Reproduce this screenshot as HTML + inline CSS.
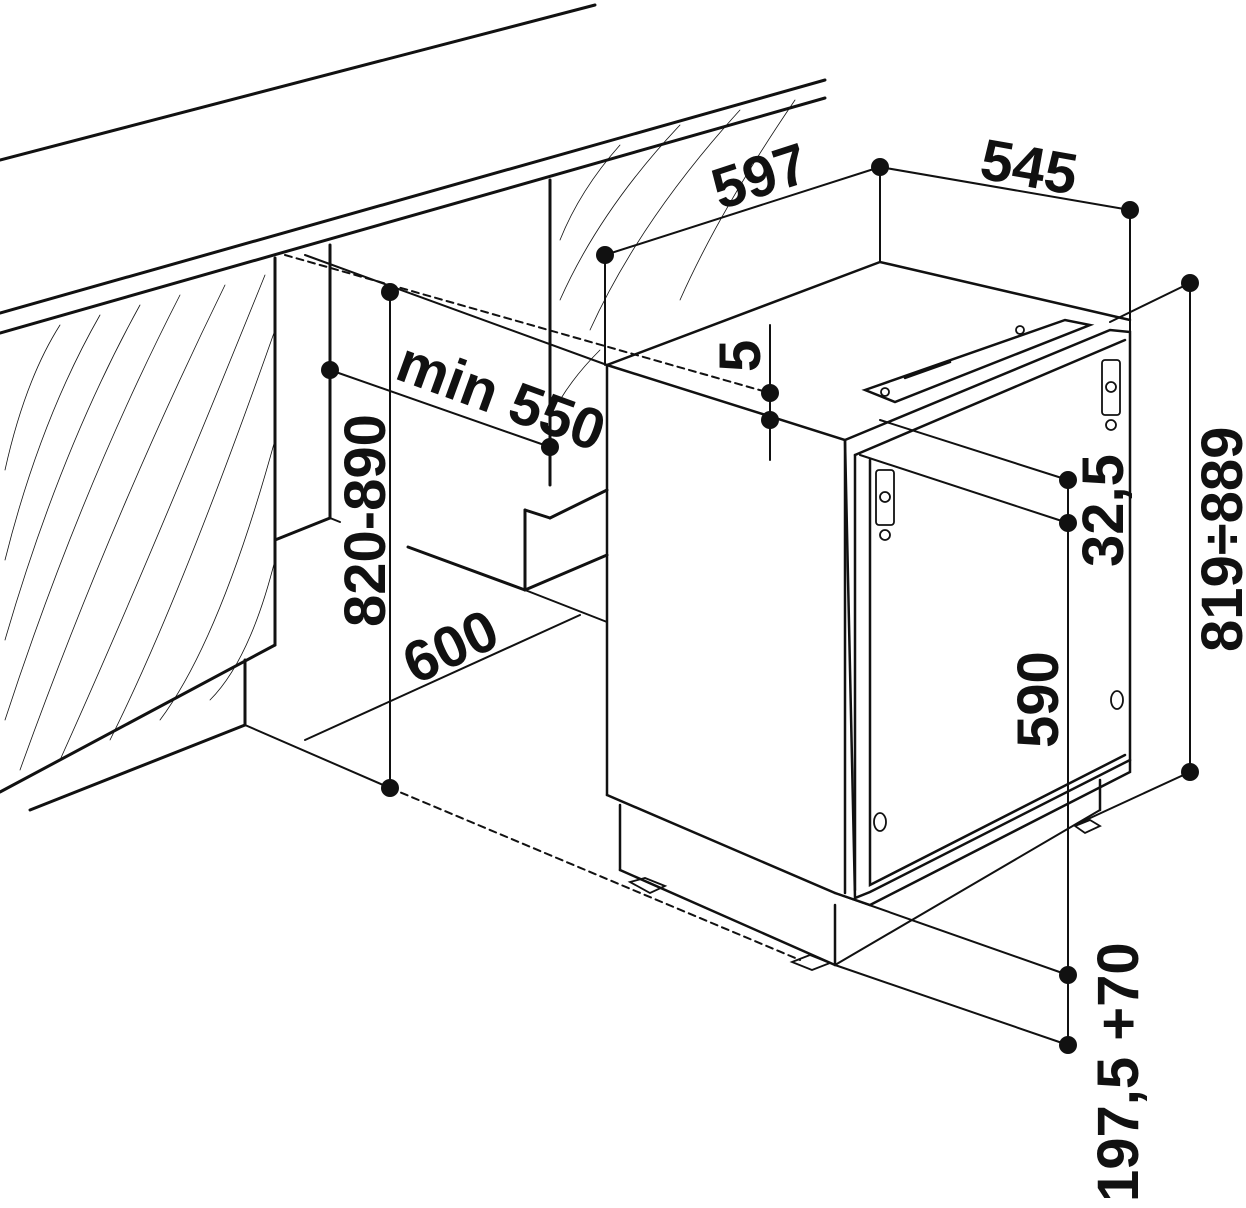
<!DOCTYPE html>
<html><head><style>
html,body{margin:0;padding:0;background:#fff;}
svg{display:block}
text{font-family:"Liberation Sans",sans-serif;font-weight:bold;fill:#111;}
</style></head><body>
<svg width="1246" height="1208" viewBox="0 0 1246 1208" xmlns="http://www.w3.org/2000/svg">
<g stroke="#111" fill="none" stroke-linecap="round">
<!-- hatch -->
<g stroke-width="0.8">
<path d="M5,470 Q25,380 60,325"/><path d="M5,560 Q40,420 100,315"/><path d="M5,640 Q60,450 140,305"/>
<path d="M5,720 Q80,490 180,295"/><path d="M20,770 Q110,520 225,285"/><path d="M60,760 Q150,560 265,275"/>
<path d="M110,740 Q180,600 275,330"/><path d="M160,720 Q220,640 275,440"/><path d="M210,700 Q250,660 275,560"/>
<path d="M560,240 Q580,190 620,145"/><path d="M560,300 Q600,210 680,125"/><path d="M590,330 Q640,220 740,110"/><path d="M680,300 Q720,210 795,100"/><path d="M560,400 Q575,375 600,350"/>
</g>
<g stroke-width="3">
<line x1="0" y1="160" x2="595" y2="5"/>
<line x1="0" y1="313" x2="825" y2="80"/>
<line x1="0" y1="333" x2="825" y2="98"/>
<line x1="275" y1="258" x2="275" y2="645"/>
<line x1="0" y1="792" x2="275" y2="645"/>
<line x1="245" y1="660" x2="245" y2="725"/>
<line x1="30" y1="810" x2="245" y2="725"/>
<line x1="275" y1="540" x2="330" y2="518"/>
<line x1="330" y1="245" x2="330" y2="518"/>
<line x1="550" y1="180" x2="550" y2="485"/>
<line x1="525" y1="510" x2="525" y2="590"/>
<line x1="525" y1="510" x2="550" y2="518"/>
<line x1="550" y1="518" x2="607" y2="490"/>
<line x1="525" y1="590" x2="607" y2="555"/>
<line x1="408" y1="547" x2="525" y2="590"/>
</g>
<g stroke-width="2">
<line x1="330" y1="518" x2="340" y2="522"/>
<line x1="245" y1="725" x2="390" y2="788"/>
<line x1="305" y1="740" x2="580" y2="615"/>
<line x1="525" y1="590" x2="607" y2="622"/>
<line x1="305" y1="255" x2="607" y2="365"/>
<line x1="330" y1="370" x2="550" y2="447"/>
<line x1="390" y1="292" x2="390" y2="788"/>
<line x1="605" y1="255" x2="880" y2="167"/>
<line x1="880" y1="167" x2="1130" y2="210"/>
<line x1="605" y1="255" x2="605" y2="365"/>
<line x1="880" y1="167" x2="880" y2="262"/>
<line x1="1130" y1="210" x2="1130" y2="770"/>
<line x1="1190" y1="283" x2="1190" y2="772"/>
<line x1="1190" y1="283" x2="1110" y2="322"/>
<line x1="1190" y1="772" x2="1075" y2="825"/>
<line x1="770" y1="325" x2="770" y2="460"/>
<line x1="1068" y1="480" x2="1068" y2="1045"/>
<line x1="880" y1="420" x2="1068" y2="480"/>
<line x1="860" y1="455" x2="1068" y2="523"/>
<line x1="835" y1="893" x2="1068" y2="975"/>
<line x1="835" y1="965" x2="1068" y2="1045"/>
<line x1="835" y1="965" x2="1100" y2="810"/>
</g>
<g stroke-width="2" stroke-dasharray="7,5">
<line x1="285" y1="255" x2="770" y2="393"/>
<line x1="390" y1="788" x2="800" y2="960"/>
</g>
<g stroke-width="2.5">
<path d="M607,365 L880,262 L1130,320"/>
<path d="M607,365 L845,440 L845,893"/>
<line x1="607" y1="365" x2="607" y2="795"/>
<line x1="607" y1="795" x2="835" y2="893"/>
<path d="M835,893 L870,905 L1130,772 L1130,760"/>
<path d="M845,440 L1110,330 L1130,332 L1130,760 L870,892 L855,898 Z"/>
<path d="M855,455 L1125,340"/>
<path d="M855,455 L855,890 M870,460 L870,885 L1125,755"/>
<line x1="620" y1="805" x2="620" y2="870"/>
<line x1="835" y1="905" x2="835" y2="965"/>
<line x1="620" y1="870" x2="835" y2="965"/>
<line x1="1100" y1="780" x2="1100" y2="810"/>
<path d="M865,390 L1065,320 L1090,325 L895,402 Z"/>
<path d="M905,378 L950,362"/>
</g>
<g stroke-width="1.8">
<circle cx="885" cy="392" r="4"/><circle cx="1020" cy="330" r="4"/>
<rect x="876" y="470" width="18" height="55" rx="3"/><circle cx="885" cy="497" r="5"/><circle cx="885" cy="535" r="5"/>
<rect x="1102" y="360" width="18" height="55" rx="3"/><circle cx="1111" cy="387" r="5"/><circle cx="1111" cy="425" r="5"/>
<ellipse cx="880" cy="822" rx="6" ry="9"/><ellipse cx="1117" cy="700" rx="6" ry="9"/>
<path d="M630,882 L645,878 L665,886 L650,893 Z"/>
<path d="M792,962 L810,955 L830,963 L812,970 Z"/>
<path d="M1075,826 L1090,820 L1100,826 L1085,833 Z"/>
</g>
</g>
<g fill="#111">
<circle cx="390" cy="292" r="9"/><circle cx="390" cy="788" r="9"/>
<circle cx="330" cy="370" r="9"/><circle cx="550" cy="447" r="9"/>
<circle cx="605" cy="255" r="9"/><circle cx="880" cy="167" r="9"/><circle cx="1130" cy="210" r="9"/>
<circle cx="1190" cy="283" r="9"/><circle cx="1190" cy="772" r="9"/>
<circle cx="770" cy="393" r="9"/><circle cx="770" cy="420" r="9"/>
<circle cx="1068" cy="480" r="9"/><circle cx="1068" cy="523" r="9"/>
<circle cx="1068" cy="975" r="9"/><circle cx="1068" cy="1045" r="9"/>
</g>
<g font-size="58">
<text transform="translate(385,627) rotate(-90)">820-890</text>
<text transform="translate(393,378) rotate(20)">min 550</text>
<text transform="translate(415,685) rotate(-25)">600</text>
<text transform="translate(720,210) rotate(-18)">597</text>
<text transform="translate(978,178) rotate(10)">545</text>
<text transform="translate(760,372) rotate(-90)">5</text>
<text transform="translate(1123,567) rotate(-90)">32,5</text>
<text transform="translate(1058,748) rotate(-90)">590</text>
<text transform="translate(1242,652) rotate(-90)">819÷889</text>
<text transform="translate(1138,1202) rotate(-90)">197,5 +70</text>
</g>
</svg>
</body></html>
